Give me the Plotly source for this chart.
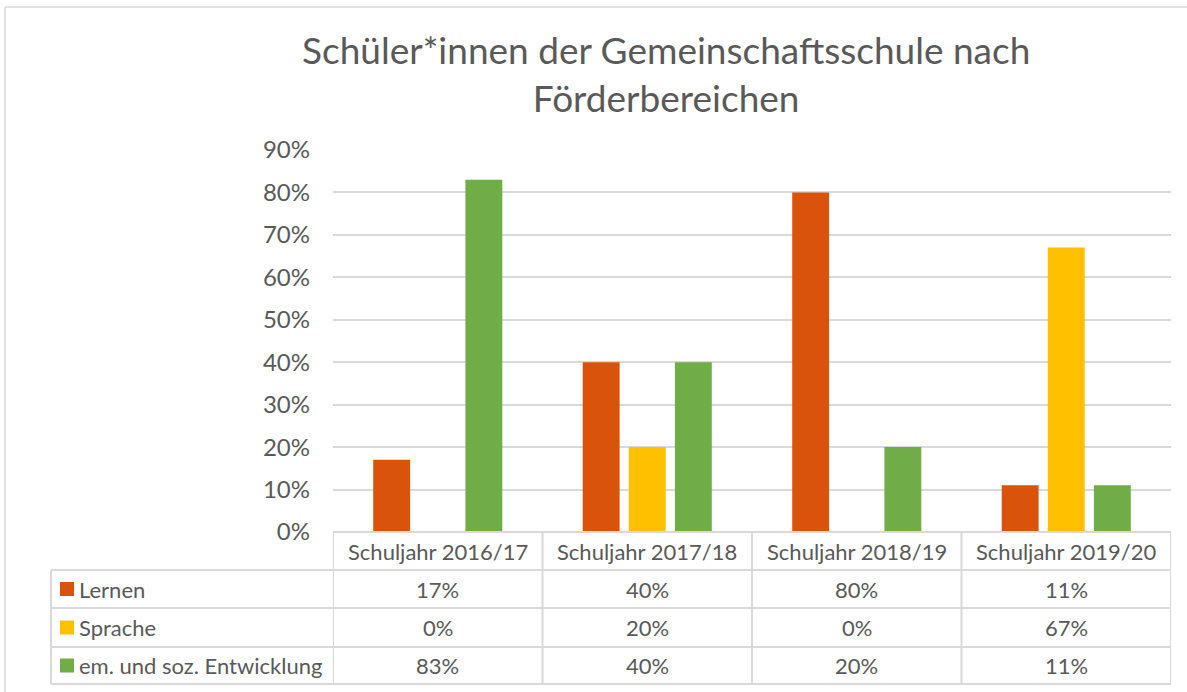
import plotly.graph_objects as go

categories = ["Schuljahr 2016/17", "Schuljahr 2017/18", "Schuljahr 2018/19", "Schuljahr 2019/20"]
series_names = ["Lernen", "Sprache", "em. und soz. Entwicklung"]
lernen = [17, 40, 80, 11]
sprache = [0, 20, 0, 67]
entwicklung = [83, 40, 20, 11]
y_ticks = [0, 10, 20, 30, 40, 50, 60, 70, 80, 90]
title_text = "Schüler*innen der Gemeinschaftsschule nach<br>Förderbereichen"

colors = ["#D9540A", "#FFC000", "#70AD47"]
series_values = [lernen, sprache, entwicklung]

W, H = 1187, 692
L, R, T, B = 333, 16, 150, 160
PW, PH = W - L - R, H - T - B
TXT = "#595959"
GRID = "#D9D9D9"
FONT = "Lato"
TFS = 22

def px(xp):
    return (xp - L) / PW

def py(yp):
    return (H - B - yp) / PH

fig = go.Figure()
for name, vals, c in zip(series_names, series_values, colors):
    fig.add_trace(go.Bar(
        x=categories, y=[v / 100 for v in vals], name=name,
        marker=dict(color=c, line=dict(width=0)),
        showlegend=False, hoverinfo="x+y+name",
    ))

shapes = []
annotations = []

# outer chart border (left and top visible)
shapes.append(dict(type="line", xref="paper", yref="paper",
                   x0=px(5), x1=px(1190), y0=py(7), y1=py(7),
                   line=dict(color=GRID, width=1.5)))
shapes.append(dict(type="line", xref="paper", yref="paper",
                   x0=px(5), x1=px(5), y0=py(7), y1=py(695),
                   line=dict(color=GRID, width=1.5)))

# table rows (pixel y)
row_lines = [532, 570, 608, 647, 684]
left_edge = 51
for i, yl in enumerate(row_lines):
    x0 = px(333) if i == 0 else px(left_edge)
    shapes.append(dict(type="line", xref="paper", yref="paper",
                       x0=x0, x1=1.0, y0=py(yl), y1=py(yl),
                       line=dict(color=GRID, width=2)))
shapes.append(dict(type="line", xref="paper", yref="paper",
                   x0=px(left_edge), x1=px(left_edge), y0=py(570), y1=py(684),
                   line=dict(color=GRID, width=2)))
for k in range(len(categories) + 1):
    shapes.append(dict(type="line", xref="x", yref="paper",
                       x0=k - 0.5, x1=k - 0.5, y0=py(532), y1=py(684),
                       line=dict(color=GRID, width=2)))

# header
for cat in categories:
    annotations.append(dict(x=cat, y=py(551), xref="x", yref="paper",
                            text=cat, showarrow=False,
                            xanchor="center", yanchor="middle",
                            font=dict(family=FONT, size=TFS, color=TXT)))

# rows
for r, (name, vals, c) in enumerate(zip(series_names, series_values, colors)):
    yc = (row_lines[r + 1] + row_lines[r + 2]) / 2
    shapes.append(dict(type="rect", xref="paper", yref="paper",
                       x0=px(60), x1=px(74), y0=py(yc - 7), y1=py(yc + 7),
                       fillcolor=c, line=dict(width=0)))
    annotations.append(dict(x=px(77), y=py(yc), xref="paper", yref="paper",
                            text=name, showarrow=False,
                            xanchor="left", yanchor="middle",
                            font=dict(family=FONT, size=TFS, color=TXT)))
    for cat, v in zip(categories, vals):
        annotations.append(dict(x=cat, y=py(yc), xref="x", yref="paper",
                                text=f"{v}%", showarrow=False,
                                xanchor="center", yanchor="middle",
                                font=dict(family=FONT, size=TFS, color=TXT)))

# title
annotations.append(dict(x=px(666), y=py(73), xref="paper", yref="paper",
                        text=title_text, showarrow=False,
                        xanchor="center", yanchor="middle",
                        font=dict(family=FONT, size=37, color=TXT)))

fig.update_layout(
    width=W, height=H,
    margin=dict(l=L, r=R, t=T, b=B, autoexpand=False),
    paper_bgcolor="white", plot_bgcolor="white",
    barmode="group", bargap=0.34, bargroupgap=0.2,
    shapes=shapes, annotations=annotations,
    font=dict(family=FONT, color=TXT),
    xaxis=dict(showticklabels=False, showgrid=False, zeroline=False,
               showline=False, ticks="", range=[-0.5, 3.5]),
    yaxis=dict(range=[0, 0.9], tickvals=[v / 100 for v in y_ticks],
               ticktext=[f"{v}%" for v in y_ticks],
               showgrid=True, gridcolor=GRID, gridwidth=2,
               zeroline=False, showline=False, ticks="",
               ticklabelstandoff=22,
               tickfont=dict(family=FONT, size=24, color=TXT)),
)

fig.write_html("out.html", config={"displayModeBar": False},
               post_script="document.body.style.margin='0';document.body.style.overflow='hidden';")
